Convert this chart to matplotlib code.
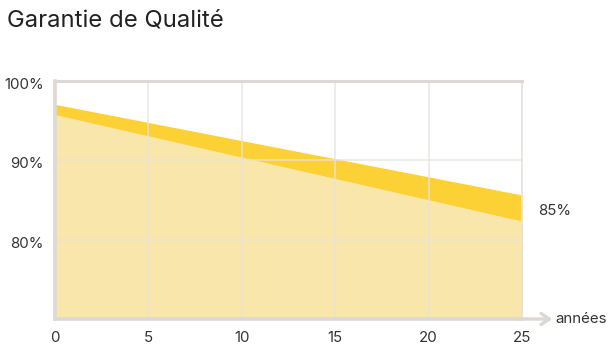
import matplotlib
matplotlib.use("Agg")
import matplotlib.pyplot as plt
import matplotlib.transforms as mtransforms

years = [0, 25]
upper = [97.0, 85.6]
lower = [95.7, 82.3]
xticks = [0, 5, 10, 15, 20, 25]
yticks = [80, 90, 100]
ytick_labels = ["80%", "90%", "100%"]
title = "Garantie de Qualité"
end_label = "85%"
xlabel = "années"

plt.rcParams['font.family'] = ['Inter', 'DejaVu Sans']

fig = plt.figure(figsize=(6.11, 3.47), dpi=100)
ax = fig.add_axes([55/611, 28/347, 467/611, (319-80.5)/347])

ax.fill_between(years, 70, lower, color='#F8E6AA', lw=0, zorder=1)
ax.fill_between(years, lower, upper, color='#FCD136', lw=0, zorder=1)

ax.set_xlim(0, 25)
ax.set_ylim(70, 100)
ax.set_xticks(xticks)
ax.set_yticks(yticks)
ax.set_yticklabels(ytick_labels)
ax.tick_params(length=0, labelsize=10.8, colors='#333333')
ax.tick_params(axis='x', pad=9)
ax.tick_params(axis='y', pad=8)
offset = mtransforms.ScaledTranslation(0, -3/100, fig.dpi_scale_trans)
for lab in ax.get_yticklabels():
    lab.set_transform(lab.get_transform() + offset)
ax.grid(True, color='#E6E2DD', lw=1.2, alpha=0.8, zorder=2)
ax.set_axisbelow(False)
for s in ax.spines.values():
    s.set_color('#DDD8D3')
    s.set_linewidth(2.6)
    s.set_zorder(3)
ax.spines['top'].set_linewidth(2.2)
ax.spines['right'].set_linewidth(1.2)
ax.spines['right'].set_color('#E6E2DD')

ax.annotate('', xy=(1.065, 0), xytext=(0.99, 0), xycoords='axes fraction',
            arrowprops=dict(arrowstyle='->,head_length=0.6,head_width=0.4',
                            color='#DDD8D3', lw=2.4, shrinkA=0, shrinkB=0),
            annotation_clip=False)
ax.text(1.072, 0, xlabel, transform=ax.transAxes, ha='left', va='center',
        fontsize=10.8, color='#333333')
ax.text(538/611, (347-211)/347, end_label, transform=fig.transFigure,
        ha='left', va='center', fontsize=10.8, color='#333333')

fig.text(7/611, (347-21)/347, title, ha='left', va='center', fontsize=17.2,
         color='#222222')

fig.savefig('out.png', dpi=100, facecolor='white')
